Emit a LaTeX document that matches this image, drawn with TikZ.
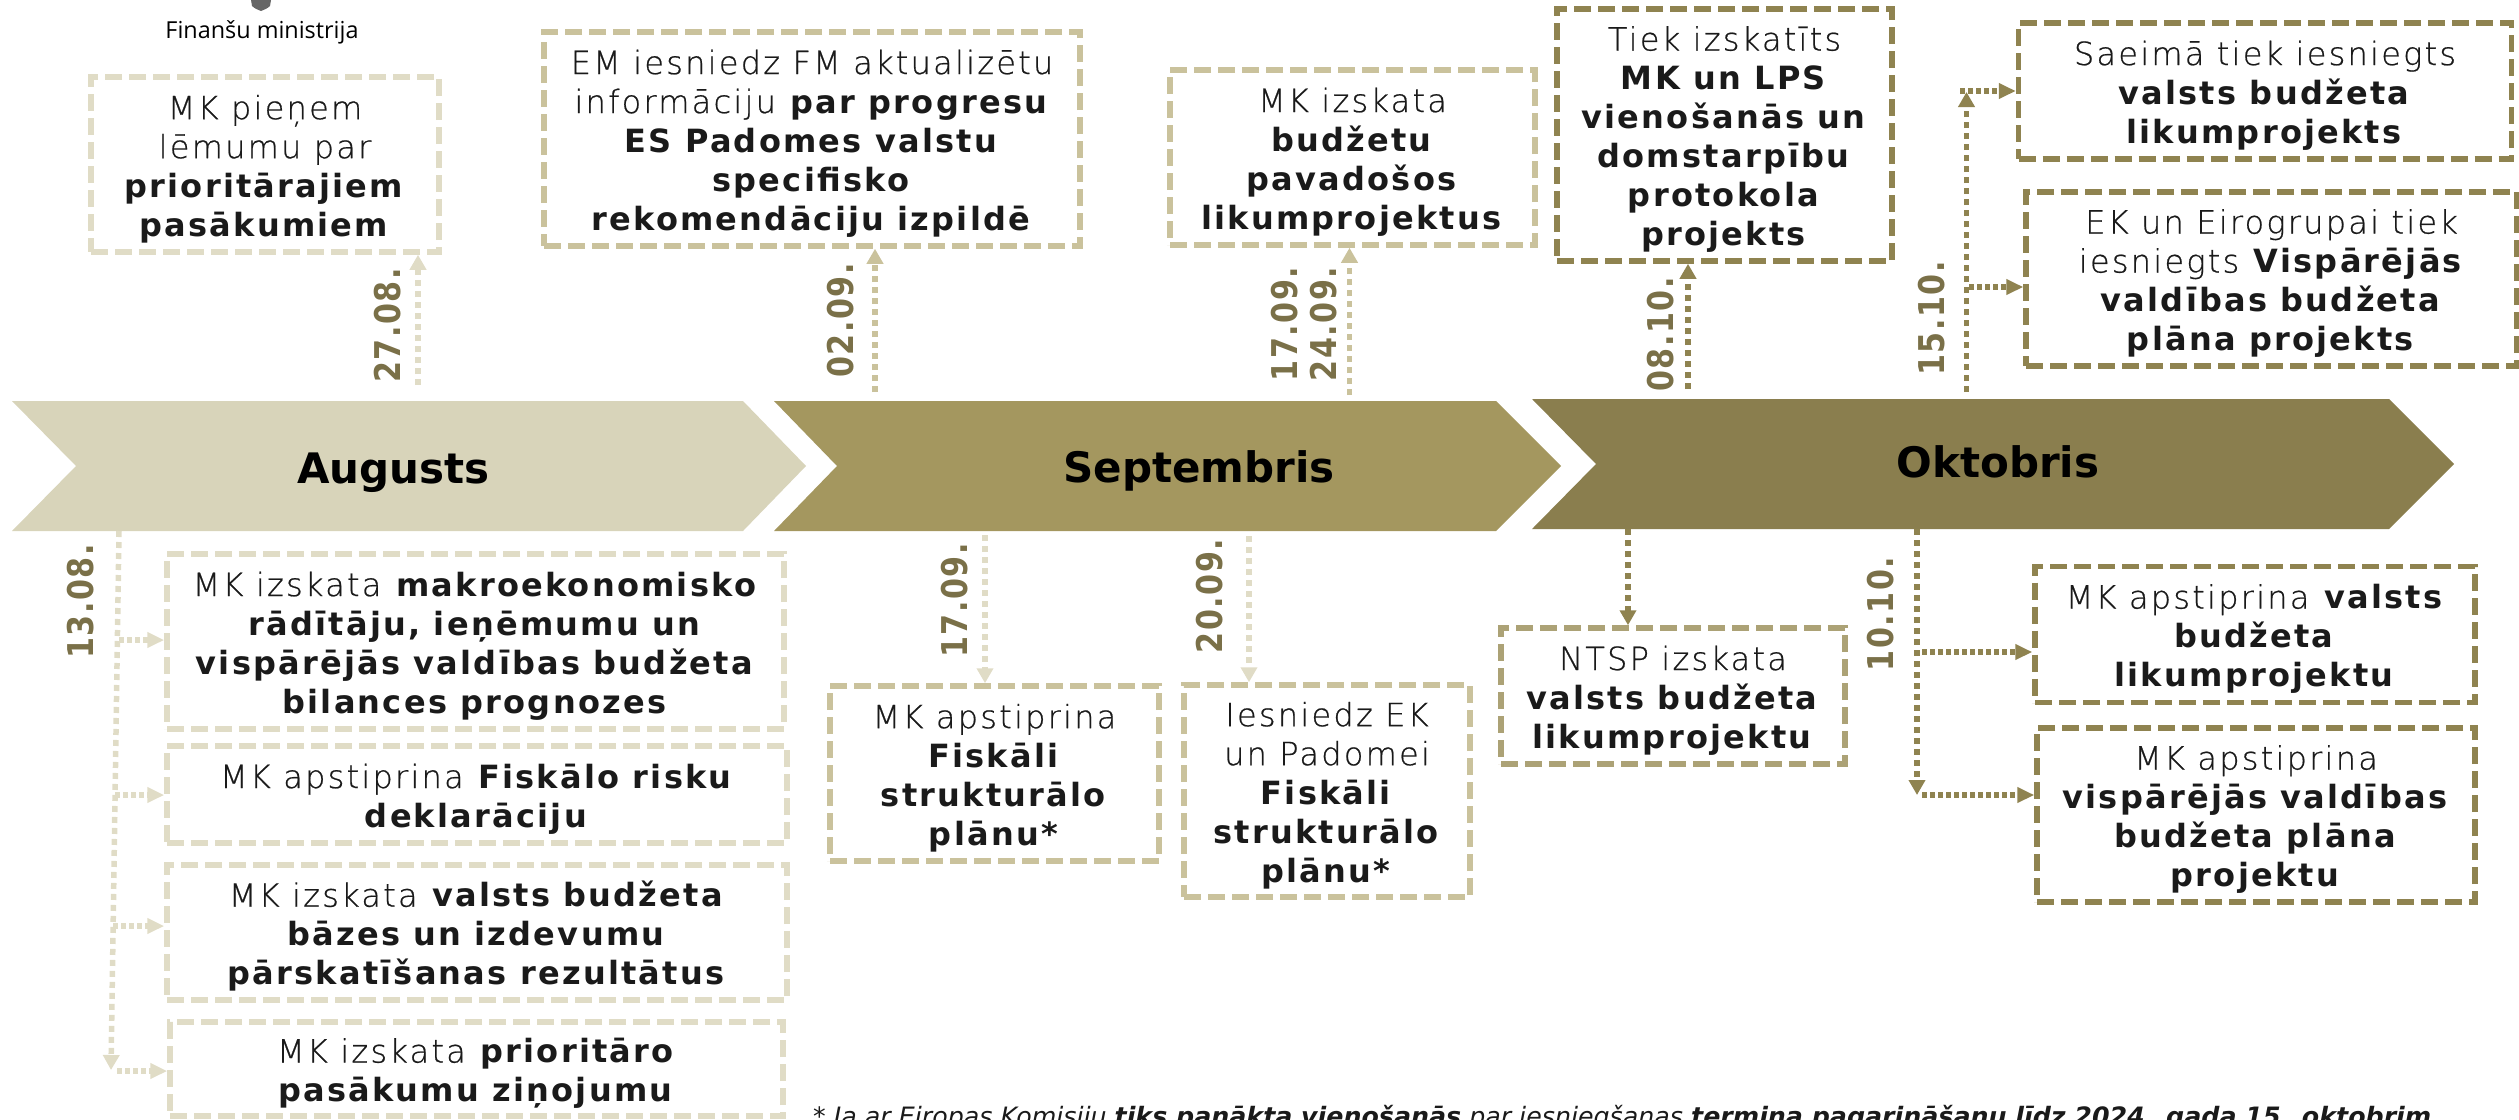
\documentclass[tikz,border=0pt]{standalone}
\usepackage{fontspec}
\usetikzlibrary{arrows.meta,calc}
\setmainfont{DejaVu Sans}[LetterSpace=7,BoldFont={DejaVu Sans Bold}]
\newfontfamily\lightf{DejaVu Sans ExtraLight}[LetterSpace=7,FakeBold=0.6]
\newfontfamily\datef{DejaVu Sans Bold}[FakeStretch=0.85,LetterSpace=4]
\newfontfamily\monthf{DejaVu Sans Bold}
\newfontfamily\notef{DejaVu Sans}[ItalicFont={DejaVu Sans Oblique},BoldFont={DejaVu Sans Bold},BoldItalicFont={DejaVu Sans Bold Oblique}]
\newfontfamily\logof{Open Sans}
\definecolor{cA}{HTML}{D8D4BA}\definecolor{cB}{HTML}{A4975F}\definecolor{cC}{HTML}{8A7E4E}
\definecolor{bA}{HTML}{E0DCC6}\definecolor{bB}{HTML}{CAC29C}\definecolor{bC}{HTML}{8F8350}
\definecolor{dateC}{HTML}{7A7048}\definecolor{ink}{HTML}{1A1A1A}
\newcommand{\lt}[1]{{\lightf #1}}
\newcommand{\fl}{\rule{0pt}{33pt}}
\tikzset{
 x=1pt,y=-1pt,
 boxn/.style={draw=#1,line width=5.5pt,dash pattern=on 17pt off 7pt,inner sep=0pt,text=ink,align=center,font=\fontsize{32}{39}\selectfont},
 band/.style={fill=#1,draw=none},
 month/.style={font=\monthf\fontsize{42}{50}\selectfont,text=black,inner sep=0pt},
 datel/.style={rotate=90,font=\datef\fontsize{35.5}{40}\selectfont,text=dateC,inner sep=0pt},
 conn/.style={draw=#1,line width=5.5pt,dash pattern=on 6pt off 5pt,-{Triangle[length=15pt,width=16pt,fill=#1]}},
 connb/.style={draw=#1,line width=6pt,dash pattern=on 4.5pt off 3.5pt,-{Triangle[length=17pt,width=15pt,fill=#1]}},
}
\begin{document}
\begin{tikzpicture}
\useasboundingbox (0,0) rectangle (2519,1119);
\clip (0,0) rectangle (2519,1119);
% logo
\fill[black!60] (251,0) -- (271,0) -- (270,6) .. controls (267,9) and (263,10) .. (261,11) .. controls (259,10) and (255,9) .. (252,6) -- cycle;
\node[font=\logof\fontsize{23.4}{30}\selectfont,text=black,inner sep=0pt] (logo) at (262,32) {Finanšu ministrija};
% bands
\fill[band=cA] (12,401) -- (743,401) -- (806,466) -- (743,531) -- (12,531) -- (76,466) -- cycle;
\fill[band=cB] (774,401) -- (1496,401) -- (1561,466) -- (1496,531) -- (774,531) -- (837,466) -- cycle;
\fill[band=cC] (1532,399) -- (2389,399) -- (2454,464) -- (2389,529) -- (1532,529) -- (1596,464) -- cycle;
\node[month] (mA) at (393.5,473) {Augusts};
\node[month] (mB) at (1199,471) {Septembris};
\node[month] (mC) at (1998,462) {Oktobris};
% upper boxes
\node[boxn=bA,minimum width=348pt,minimum height=175pt] (b1) at (265,164.5) {\fl\lt{MK pieņem}\\\lt{lēmumu par}\\\textbf{prioritārajiem}\\\textbf{pasākumiem}};
\node[boxn=bB,minimum width=536pt,minimum height=214pt] (b2) at (812,139) {\fl\lt{EM iesniedz FM aktualizētu}\\\lt{informāciju} \textbf{par progresu}\\\textbf{ES Padomes valstu}\\\textbf{specifisko}\\\textbf{rekomendāciju izpildē}};
\node[boxn=bB,minimum width=365pt,minimum height=175pt] (b3) at (1352.5,157.5) {\fl\lt{MK izskata}\\\textbf{budžetu}\\\textbf{pavadošos}\\\textbf{likumprojektus}};
\node[boxn=bC,minimum width=335pt,minimum height=252pt] (b4) at (1724.5,135) {\fl\lt{Tiek izskatīts}\\\textbf{MK un LPS}\\\textbf{vienošanās un}\\\textbf{domstarpību}\\\textbf{protokola}\\\textbf{projekts}};
\node[boxn=bC,minimum width=493pt,minimum height=136pt] (b5) at (2265,91) {\fl\lt{Saeimā tiek iesniegts}\\\textbf{valsts budžeta}\\\textbf{likumprojekts}};
\node[boxn=bC,minimum width=491pt,minimum height=174pt] (b6) at (2271.5,279) {\fl\lt{EK un Eirogrupai tiek}\\\lt{iesniegts} \textbf{Vispārējās}\\\textbf{valdības budžeta}\\\textbf{plāna projekts}};
% lower boxes
\node[boxn=bA,minimum width=617pt,minimum height=175pt] (b7) at (475.5,641.5) {\fl\lt{MK izskata} \textbf{makroekonomisko}\\\textbf{rādītāju, ieņēmumu un}\\\textbf{vispārējās valdības budžeta}\\\textbf{bilances prognozes}};
\node[boxn=bA,minimum width=620pt,minimum height=97pt] (b8) at (477,794.5) {\fl\lt{MK apstiprina} \textbf{Fiskālo risku}\\\textbf{deklarāciju}};
\node[boxn=bA,minimum width=620pt,minimum height=135pt] (b9) at (477,932.5) {\fl\lt{MK izskata} \textbf{valsts budžeta}\\\textbf{bāzes un izdevumu}\\\textbf{pārskatīšanas rezultātus}};
\node[boxn=bA,minimum width=613pt,minimum height=94pt] (b10) at (476.5,1069) {\fl\lt{MK izskata} \textbf{prioritāro}\\\textbf{pasākumu ziņojumu}};
\node[boxn=bB,minimum width=329pt,minimum height=175pt] (b11) at (994.5,773.5) {\fl\lt{MK apstiprina}\\\textbf{Fiskāli}\\\textbf{strukturālo}\\\textbf{plānu*}};
\node[boxn=bB,minimum width=286pt,minimum height=212pt] (b12) at (1327,791) {\fl\lt{Iesniedz EK}\\\lt{un Padomei}\\\textbf{Fiskāli}\\\textbf{strukturālo}\\\textbf{plānu*}};
\node[boxn=bB!50!bC,minimum width=344pt,minimum height=136pt] (b13) at (1673,696) {\fl\lt{NTSP izskata}\\\textbf{valsts budžeta}\\\textbf{likumprojektu}};
\node[boxn=bC,minimum width=440pt,minimum height=136pt] (b14) at (2255,634.5) {\fl\lt{MK apstiprina} \textbf{valsts}\\\textbf{budžeta}\\\textbf{likumprojektu}};
\node[boxn=bC,minimum width=438pt,minimum height=174pt] (b15) at (2256,815) {\fl\lt{MK apstiprina}\\\textbf{vispārējās valdības}\\\textbf{budžeta plāna}\\\textbf{projektu}};
% date labels
\node[datel] (d1) at (388,325.5) {27.08.};
\node[datel] (d2) at (841,320.5) {02.09.};
\node[datel] (d3) at (1285,324) {17.09.};
\node[datel] (d4) at (1324,324) {24.09.};
\node[datel] (d5) at (1660.5,334.5) {08.10.};
\node[datel] (d6) at (1932,318.5) {15.10.};
\node[datel] (d7) at (81,601.5) {13.08.};
\node[datel] (d8) at (955,600.5) {17.09.};
\node[datel] (d9) at (1210,596) {20.09.};
\node[datel] (d10) at (1881,614) {10.10.};
% connector ends
\coordinate (u1) at (418,385); \coordinate (u2) at (875,392); \coordinate (u3) at (1349.5,395); \coordinate (u4) at (1688,389); \coordinate (u5) at (1966.5,392);
\coordinate (u5top) at (1966.5,92);
\coordinate (k5a) at (1960,91); \coordinate (k5b) at (1969,287);
\coordinate (l1) at (119,531); \coordinate (l1end) at (111,1070);
\coordinate (k1) at (119,640); \coordinate (k2) at (115,795); \coordinate (k3) at (113,926); \coordinate (k4) at (117,1071);
\coordinate (l2) at (985,535); \coordinate (l3) at (1249,536); \coordinate (l4) at (1628,529); \coordinate (l5) at (1917,529); \coordinate (l5end) at (1917,795);
\coordinate (k6) at (1922,652); \coordinate (k7) at (1922,795);
% connectors
\draw[conn=bA] (u1) -- (u1 |- b1.south);
\draw[conn=bB] (u2) -- (u2 |- b2.south);
\draw[conn=bB] (u3) -- (u3 |- b3.south);
\draw[conn=bC] (u4) -- (u4 |- b4.south);
\draw[conn=bC] (u5) -- (u5top);
\draw[connb=bC] (k5a) -- (k5a -| b5.west);
\draw[connb=bC] (k5b) -- (k5b -| b6.west);
\draw[conn=bA] (l1) -- (l1end);
\draw[connb=bA] (k1) -- (k1 -| b7.west);
\draw[connb=bA] (k2) -- (k2 -| b8.west);
\draw[connb=bA] (k3) -- (k3 -| b9.west);
\draw[connb=bA] (k4) -- (k4 -| b10.west);
\draw[conn=bA] (l2) -- (l2 |- b11.north);
\draw[conn=bA] (l3) -- (l3 |- b12.north);
\draw[conn=bC] (l4) -- (l4 |- b13.north);
\draw[conn=bC] (l5) -- (l5end);
\draw[connb=bC] (k6) -- (k6 -| b14.west);
\draw[connb=bC] (k7) -- (k7 -| b15.west);
% footnote
\node[anchor=base west,inner sep=0pt,font=\notef\fontsize{25.3}{28}\selectfont\itshape,text=ink] (fn) at (813,1125.5) {* Ja ar Eiropas Komisiju \textbf{tiks panākta vienošanās} par iesniegšanas \textbf{termiņa pagarināšanu līdz 2024. gada 15. oktobrim}};
\end{tikzpicture}
\end{document}
